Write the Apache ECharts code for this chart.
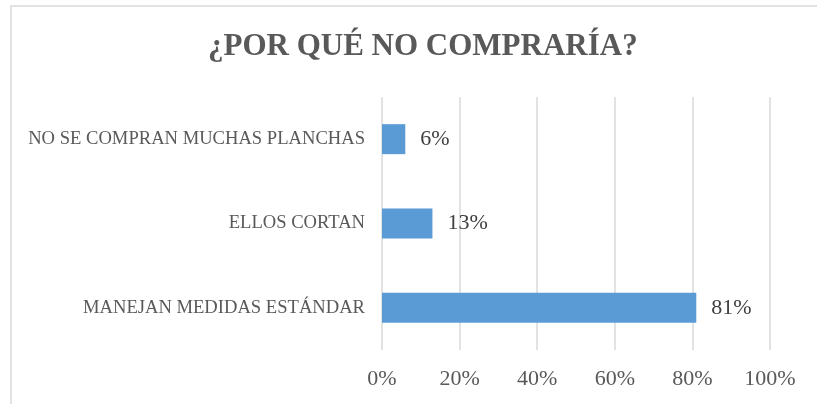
<!DOCTYPE html>
<html>
<head>
<meta charset="utf-8">
<script src="https://cdn.jsdelivr.net/npm/echarts@6/dist/echarts.min.js"></script>
<style>
  html, body { margin: 0; padding: 0; background: #fff; }
  #chart { width: 817px; height: 404px; }
</style>
</head>
<body>
<div id="chart"></div>
<script>
var categories = ['NO SE COMPRAN MUCHAS PLANCHAS', 'ELLOS CORTAN', 'MANEJAN MEDIDAS ESTÁNDAR'];
var values = [6, 13, 81];
var xTicks = [0, 20, 40, 60, 80, 100];

var chartDom = document.getElementById('chart');
var myChart = echarts.init(chartDom);
var font = 'Liberation Serif';

var option = {
  animation: false,
  graphic: [
    {
      type: 'rect',
      shape: { x: 11, y: 6, width: 900, height: 500 },
      style: { fill: 'none', stroke: '#d9d9d9', lineWidth: 1.5 },
      silent: true
    }
  ],
  title: {
    text: '¿POR QUÉ NO COMPRARÍA?',
    left: 203,
    top: 26,
    textStyle: {
      fontFamily: font,
      fontWeight: 'bold',
      fontSize: 31,
      color: '#595959'
    }
  },
  grid: {
    left: 382,
    right: 47,
    top: 97,
    bottom: 54
  },
  xAxis: {
    type: 'value',
    min: xTicks[0],
    max: xTicks[xTicks.length - 1],
    interval: 20,
    axisLine: { show: false },
    axisTick: { show: false },
    splitLine: { show: true, lineStyle: { color: '#d9d9d9', width: 1.5 } },
    axisLabel: {
      margin: 18,
      fontFamily: font,
      fontSize: 22,
      color: '#595959',
      formatter: '{value}%'
    }
  },
  yAxis: {
    type: 'category',
    inverse: true,
    data: categories,
    axisLine: { show: false },
    axisTick: { show: false },
    axisLabel: {
      margin: 17,
      fontFamily: font,
      fontSize: 18.6,
      color: '#595959'
    }
  },
  series: [
    {
      type: 'bar',
      data: values,
      barWidth: 30,
      itemStyle: { color: '#5b9bd5' },
      label: {
        show: true,
        position: 'right',
        distance: 15,
        fontFamily: font,
        fontSize: 22,
        color: '#404040',
        formatter: '{c}%'
      }
    }
  ]
};

myChart.setOption(option);
</script>
</body>
</html>
